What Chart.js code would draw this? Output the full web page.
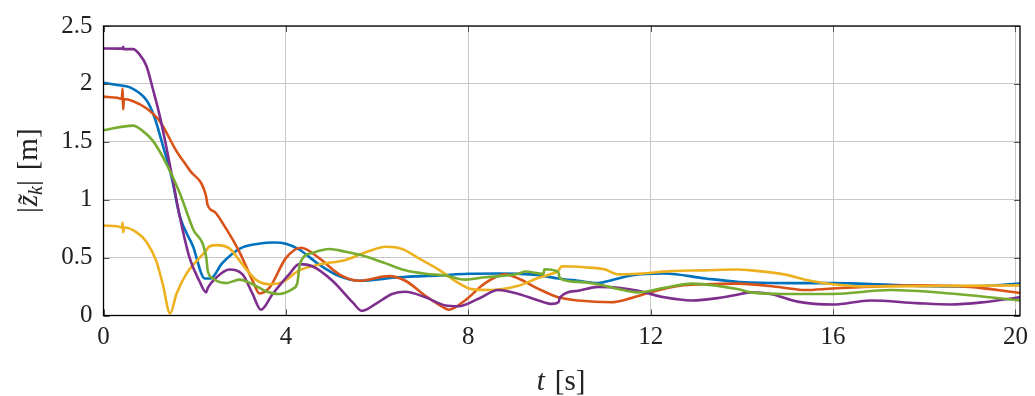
<!DOCTYPE html>
<html>
<head>
<meta charset="utf-8">
<script src="https://cdn.jsdelivr.net/npm/chart.js@4/dist/chart.umd.min.js"></script>
<style>
  html, body { margin: 0; padding: 0; background: #fff; }
  #wrap { width: 1035px; height: 396px; }
</style>
</head>
<body>
<div id="wrap"><canvas id="chart" width="1035" height="396"></canvas></div>
<script>
// tick labels
const xTicks = [0, 4, 8, 12, 16, 20];
const yTicks = [0, 0.5, 1, 1.5, 2, 2.5];

// series values (time in s, |z_k| in m)
const blueT = [0, 0.3, 0.58, 0.94, 1.12, 1.3, 1.49, 1.67, 1.96, 2.22, 2.35, 2.6, 3.0, 3.4, 3.75, 4.0, 4.29, 4.73, 5.17, 5.6, 6.48, 7.36, 8.0, 8.67, 9.1, 9.5, 9.97, 10.4, 10.85, 11.1, 11.57, 12.3, 13.2, 13.9, 14.2, 15, 16, 17, 17.84, 19, 20.1];
const blueZ = [2.01, 1.99, 1.97, 1.86, 1.71, 1.47, 1.2, 0.86, 0.6, 0.32, 0.32, 0.45, 0.58, 0.62, 0.63, 0.62, 0.57, 0.44, 0.34, 0.30, 0.33, 0.346, 0.36, 0.363, 0.36, 0.35, 0.32, 0.30, 0.28, 0.30, 0.346, 0.363, 0.32, 0.29, 0.285, 0.28, 0.28, 0.27, 0.256, 0.25, 0.275];

const orangeT = [0, 0.3, 0.40, 0.42, 0.43, 0.45, 0.65, 0.94, 1.23, 1.6, 1.89, 2.25, 2.28, 2.45, 2.61, 2.98, 3.27, 3.42, 3.64, 4.0, 4.33, 4.73, 5.17, 5.6, 6.26, 6.62, 7.06, 7.5, 7.57, 7.93, 8.37, 8.81, 9.1, 9.54, 9.97, 10.41, 11.14, 11.57, 12.0, 12.6, 13.2, 13.9, 14.93, 15.37, 16, 17.84, 19.0, 20.1];
const orangeZ = [1.89, 1.88, 1.87, 1.96, 1.78, 1.87, 1.85, 1.79, 1.68, 1.42, 1.255, 1.03, 0.96, 0.89, 0.80, 0.55, 0.30, 0.19, 0.24, 0.495, 0.585, 0.495, 0.355, 0.30, 0.34, 0.30, 0.17, 0.06, 0.05, 0.13, 0.28, 0.355, 0.32, 0.23, 0.157, 0.13, 0.115, 0.15, 0.20, 0.256, 0.27, 0.275, 0.24, 0.22, 0.233, 0.26, 0.247, 0.194];

const yellowT = [0, 0.3, 0.40, 0.42, 0.43, 0.45, 0.72, 0.94, 1.16, 1.30, 1.46, 1.6, 1.81, 2.1, 2.25, 2.3, 2.47, 2.76, 3.05, 3.34, 3.63, 3.93, 4.29, 4.73, 5.31, 5.75, 6.19, 6.55, 6.91, 7.35, 7.79, 8.08, 8.52, 9.1, 9.54, 9.83, 9.97, 10.05, 10.56, 11.0, 11.29, 11.72, 12.45, 13.18, 13.9, 14.2, 14.93, 15.5, 16, 16.75, 18.57, 20.1];
const yellowZ = [0.777, 0.77, 0.76, 0.80, 0.72, 0.76, 0.72, 0.636, 0.467, 0.27, 0.017, 0.186, 0.355, 0.495, 0.56, 0.59, 0.608, 0.58, 0.44, 0.31, 0.27, 0.29, 0.39, 0.44, 0.48, 0.546, 0.594, 0.574, 0.495, 0.397, 0.28, 0.228, 0.22, 0.256, 0.326, 0.36, 0.385, 0.425, 0.416, 0.397, 0.355, 0.36, 0.383, 0.39, 0.397, 0.39, 0.355, 0.30, 0.27, 0.25, 0.256, 0.26];

const purpleT = [0, 0.3, 0.42, 0.43, 0.44, 0.65, 0.79, 0.94, 1.08, 1.23, 1.38, 1.52, 1.67, 1.89, 2.1, 2.25, 2.29, 2.47, 2.76, 3.05, 3.27, 3.45, 3.71, 4.07, 4.29, 4.58, 5.02, 5.46, 5.67, 5.97, 6.33, 6.62, 7.06, 7.5, 7.79, 8.22, 8.66, 9.1, 9.54, 9.83, 9.98, 10.01, 10.41, 10.85, 11.29, 11.72, 12.3, 12.9, 13.47, 13.9, 14.2, 14.63, 15.22, 16, 16.82, 17.84, 18.57, 19.3, 20.1];
const purpleZ = [2.306, 2.305, 2.305, 2.32, 2.30, 2.30, 2.255, 2.156, 1.96, 1.73, 1.45, 1.17, 0.86, 0.495, 0.30, 0.20, 0.24, 0.326, 0.397, 0.355, 0.186, 0.05, 0.186, 0.355, 0.444, 0.425, 0.30, 0.115, 0.04, 0.10, 0.186, 0.205, 0.157, 0.087, 0.08, 0.144, 0.22, 0.186, 0.13, 0.10, 0.115, 0.157, 0.214, 0.247, 0.24, 0.214, 0.157, 0.13, 0.15, 0.18, 0.20, 0.186, 0.12, 0.095, 0.13, 0.107, 0.095, 0.115, 0.157];

const greenT = [0, 0.65, 0.87, 1.08, 1.38, 1.67, 1.96, 2.25, 2.29, 2.4, 2.69, 2.98, 3.27, 3.56, 3.85, 4.14, 4.25, 4.31, 4.58, 4.95, 5.31, 5.75, 6.19, 6.62, 7.06, 7.5, 7.93, 8.37, 9.1, 9.25, 9.65, 9.67, 9.97, 10.01, 10.41, 10.85, 11.29, 11.72, 12.3, 12.9, 13.47, 13.9, 14.2, 14.93, 16, 17.26, 18.57, 20.1];
const greenZ = [1.60, 1.64, 1.59, 1.51, 1.31, 1.06, 0.75, 0.51, 0.38, 0.32, 0.28, 0.31, 0.27, 0.21, 0.186, 0.228, 0.28, 0.45, 0.54, 0.574, 0.55, 0.51, 0.45, 0.39, 0.36, 0.346, 0.31, 0.33, 0.36, 0.38, 0.36, 0.40, 0.377, 0.32, 0.29, 0.27, 0.228, 0.20, 0.24, 0.275, 0.256, 0.228, 0.20, 0.186, 0.186, 0.22, 0.19, 0.13];

function pts(ts, zs) {
    return ts.map((t, i) => ({x: t, y: zs[i]}));
}

function series(ts, zs, color) {
    return {
        data: pts(ts, zs),
        borderColor: color,
        borderWidth: 2.6,
        pointRadius: 0,
        showLine: true,
        fill: false,
        cubicInterpolationMode: 'monotone'
    };
}

const serif = '"Liberation Serif", "Times New Roman", serif';

// draw a run of text pieces with their own fonts, centred on x
function drawParts(ctx, parts, x, y) {
    let total = 0;
    parts.forEach(p => { ctx.font = p.font; total += ctx.measureText(p.text).width + (p.gap || 0); });
    let cx = x - total / 2;
    parts.forEach(p => {
        ctx.font = p.font;
        ctx.fillText(p.text, cx, y + (p.dy || 0));
        cx += ctx.measureText(p.text).width + (p.gap || 0);
    });
}

// frame, inner tick marks and axis titles
const framePlugin = {
    id: 'frame',
    afterDraw(chart) {
        const ctx = chart.ctx;
        const a = chart.chartArea;
        const xs = chart.scales.x, ys = chart.scales.y;
        ctx.save();
        ctx.strokeStyle = '#555';
        ctx.lineWidth = 1;
        ctx.beginPath();
        xTicks.forEach(v => {
            const px = Math.round(xs.getPixelForValue(v)) + 0.5;
            ctx.moveTo(px, a.bottom); ctx.lineTo(px, a.bottom - 6);
            ctx.moveTo(px, a.top); ctx.lineTo(px, a.top + 6);
        });
        yTicks.forEach(v => {
            const py = Math.round(ys.getPixelForValue(v)) + 0.5;
            ctx.moveTo(a.left, py); ctx.lineTo(a.left + 6, py);
            ctx.moveTo(a.right, py); ctx.lineTo(a.right - 6, py);
        });
        ctx.stroke();
        ctx.strokeStyle = '#000';
        ctx.lineWidth = 1.3;
        ctx.strokeRect(a.left, a.top, a.right - a.left, a.bottom - a.top);

        ctx.fillStyle = '#222';
        ctx.textBaseline = 'alphabetic';
        // x title: t [s]
        drawParts(ctx, [
            {text: 't', font: 'italic 29px ' + serif, gap: 10},
            {text: '[s]', font: '29px ' + serif}
        ], 561, 390);
        // y title: |z~_k| [m]
        ctx.translate(37, (a.top + a.bottom) / 2);
        ctx.rotate(-Math.PI / 2);
        drawParts(ctx, [
            {text: '|', font: '29px ' + serif, gap: 1},
            {text: 'z\u0303', font: 'italic 29px ' + serif},
            {text: 'k', font: 'italic 20px ' + serif, dy: 5},
            {text: '|', font: '29px ' + serif, gap: 10},
            {text: '[m]', font: '29px ' + serif}
        ], 0, 0);
        ctx.restore();
    }
};

new Chart(document.getElementById('chart'), {
    type: 'scatter',
    data: {
        datasets: [
            series(greenT, greenZ, '#77AC30'),
            series(purpleT, purpleZ, '#7E2F8E'),
            series(yellowT, yellowZ, '#EDB120'),
            series(orangeT, orangeZ, '#D95319'),
            series(blueT, blueZ, '#0072BD')
        ]
    },
    options: {
        responsive: false,
        animation: false,
        layout: { padding: { top: 19, right: 11, left: 0, bottom: 0 } },
        plugins: {
            legend: { display: false },
            tooltip: { enabled: false }
        },
        scales: {
            x: {
                type: 'linear',
                min: 0,
                max: 20.1,
                afterBuildTicks: s => { s.ticks = xTicks.map(v => ({value: v})); },
                afterFit: s => { s.height = 80.5; },
                grid: { color: '#c8c8c8', lineWidth: 1, drawTicks: false },
                border: { display: false },
                ticks: {
                    padding: 7,
                    color: '#222',
                    font: { family: serif, size: 25 },
                    maxRotation: 0
                }
            },
            y: {
                min: 0,
                max: 2.5,
                afterBuildTicks: s => { s.ticks = yTicks.map(v => ({value: v})); },
                afterFit: s => { s.width = 103.5; },
                grid: { color: '#c8c8c8', lineWidth: 1, drawTicks: false },
                border: { display: false },
                ticks: {
                    padding: 11,
                    color: '#222',
                    font: { family: serif, size: 25 },
                    callback: v => String(v)
                }
            }
        }
    },
    plugins: [framePlugin]
});
</script>
</body>
</html>
